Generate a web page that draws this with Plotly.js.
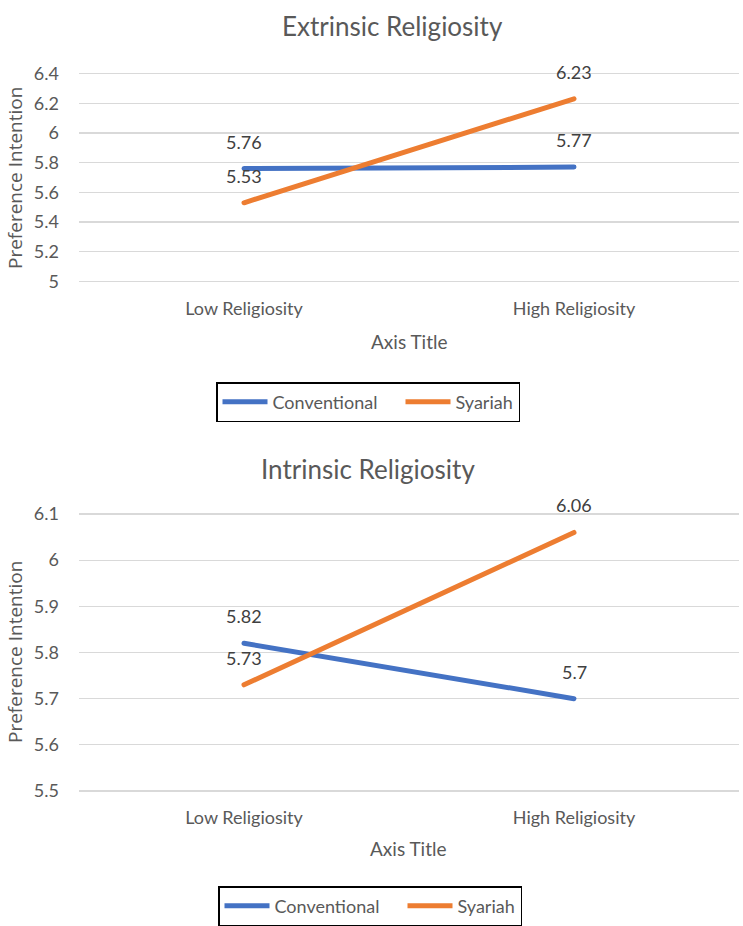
<!DOCTYPE html>
<html>
<head>
<meta charset="utf-8">
<script src="https://cdn.plot.ly/plotly-3.0.1.min.js"></script>
<style>
  html, body { margin: 0; padding: 0; background: #ffffff; }
  #chart { width: 743px; height: 926px; }
  /* rounded ends on the series lines */
  #chart .scatterlayer .js-line { stroke-linecap: round; stroke-linejoin: round; }
</style>
</head>
<body>
<div id="chart"></div>
<script>
// Preference intention by religiosity level, conventional vs. syariah banking
const categories = ["Low Religiosity", "High Religiosity"];
const seriesNames = ["Conventional", "Syariah"];

const extrinsicConventional = [5.76, 5.77];
const extrinsicSyariah = [5.53, 6.23];

const intrinsicConventional = [5.82, 5.70];
const intrinsicSyariah = [5.73, 6.06];

const extrinsicTicks = [5, 5.2, 5.4, 5.6, 5.8, 6, 6.2, 6.4];
const extrinsicTickText = ["5", "5.2", "5.4", "5.6", "5.8", "6", "6.2", "6.4"];
const intrinsicTicks = [5.5, 5.6, 5.7, 5.8, 5.9, 6, 6.1];
const intrinsicTickText = ["5.5", "5.6", "5.7", "5.8", "5.9", "6", "6.1"];

const chartTitles = ["Extrinsic Religiosity", "Intrinsic Religiosity"];
const yTitle = "Preference Intention";
const xTitle = "Axis Title";

const BLUE = "#4472C4";
const ORANGE = "#ED7D31";
const TEXT = "#595959";
const GRID = "#D9D9D9";
const MAIN_FONT = "Lato, 'Liberation Sans', Arial, sans-serif";
const SIDE_FONT = "'Open Sans', 'Noto Sans', 'DejaVu Sans', sans-serif";

const W = 743, H = 926;
const px = v => v / W;          // horizontal pixel -> paper
const py = v => 1 - v / H;      // vertical pixel -> paper

function lineTrace(y, name, color, xa, ya, legend, entryWidth) {
  const t = {
    type: "scatter", mode: "lines",
    x: categories, y: y, name: name,
    xaxis: xa, yaxis: ya, legend: legend,
    line: { color: color, width: 5 },
    hoverinfo: "skip"
  };
  if (entryWidth) t.legendwidth = entryWidth;
  return t;
}

const data = [
  lineTrace(extrinsicConventional, seriesNames[0], BLUE, "x", "y", "legend", 123),
  lineTrace(extrinsicSyariah, seriesNames[1], ORANGE, "x", "y", "legend"),
  lineTrace(intrinsicConventional, seriesNames[0], BLUE, "x2", "y2", "legend2", 123),
  lineTrace(intrinsicSyariah, seriesNames[1], ORANGE, "x2", "y2", "legend2")
];

// value labels sitting above each point
function valueLabels(values, xref, yref) {
  return values.map((v, i) => ({
    x: categories[i], y: v, xref: xref, yref: yref,
    text: String(v), showarrow: false, yshift: 27,
    font: { family: MAIN_FONT, size: 18, color: "#404040" }
  }));
}

// y axis whose first and last gridlines sit a few pixels inside the plot edge,
// so the end gridlines are still drawn
function yAxis(lo, hi, topPx, bottomPx, ticks, tickText) {
  const pad = 3;
  const perPx = (hi - lo) / (bottomPx - topPx);
  return {
    range: [lo - pad * perPx, hi + pad * perPx],
    domain: [py(bottomPx + pad), py(topPx - pad)],
    tickmode: "array", tickvals: ticks, ticktext: tickText,
    showgrid: true, gridcolor: GRID, gridwidth: 1.3,
    zeroline: false, showline: false, ticks: "",
    ticklabelstandoff: 19,
    tickfont: { family: MAIN_FONT, size: 18, color: TEXT },
    fixedrange: true
  };
}

function xAxis(domain, anchor) {
  return {
    type: "category", range: [-0.5, 1.5], domain: domain, anchor: anchor,
    showgrid: false, zeroline: false, showline: false, ticks: "",
    tickfont: { family: MAIN_FONT, size: 18, color: TEXT },
    ticklabelstandoff: 11,
    fixedrange: true
  };
}

const xDomain = [px(79), px(739)];

const annotations = []
  .concat(valueLabels(extrinsicConventional, "x", "y"))
  .concat(valueLabels(extrinsicSyariah, "x", "y"))
  .concat(valueLabels(intrinsicConventional, "x2", "y2"))
  .concat(valueLabels(intrinsicSyariah, "x2", "y2"))
  .concat([
    { text: chartTitles[0], x: px(392), y: py(26), xref: "paper", yref: "paper",
      showarrow: false, xanchor: "center", yanchor: "middle",
      font: { family: MAIN_FONT, size: 26, color: TEXT } },
    { text: chartTitles[1], x: px(368), y: py(469), xref: "paper", yref: "paper",
      showarrow: false, xanchor: "center", yanchor: "middle",
      font: { family: MAIN_FONT, size: 26, color: TEXT } },
    { text: xTitle, x: px(409), y: py(341), xref: "paper", yref: "paper",
      showarrow: false, xanchor: "center", yanchor: "middle",
      font: { family: MAIN_FONT, size: 19, color: TEXT } },
    { text: xTitle, x: px(408), y: py(848), xref: "paper", yref: "paper",
      showarrow: false, xanchor: "center", yanchor: "middle",
      font: { family: MAIN_FONT, size: 19, color: TEXT } },
    { text: yTitle, x: px(15), y: py(178), xref: "paper", yref: "paper",
      showarrow: false, textangle: -90, xanchor: "center", yanchor: "middle",
      font: { family: SIDE_FONT, size: 19, color: TEXT } },
    { text: yTitle, x: px(15), y: py(652), xref: "paper", yref: "paper",
      showarrow: false, textangle: -90, xanchor: "center", yanchor: "middle",
      font: { family: SIDE_FONT, size: 19, color: TEXT } }
  ]);

function legendBox(xLeft, yTop) {
  return {
    orientation: "h", x: px(xLeft), y: py(yTop),
    xanchor: "left", yanchor: "top",
    bgcolor: "#ffffff", bordercolor: "#000000", borderwidth: 1.5,
    font: { family: MAIN_FONT, size: 18, color: TEXT },
    itemwidth: 45,
    tracegroupgap: 0, traceorder: "normal"
  };
}

const layout = {
  width: W, height: H,
  margin: { l: 0, r: 0, t: 0, b: 0, autoexpand: false },
  paper_bgcolor: "#ffffff", plot_bgcolor: "#ffffff",
  showlegend: true,
  xaxis: xAxis(xDomain, "y"),
  yaxis: yAxis(5, 6.4, 73.5, 281.5, extrinsicTicks, extrinsicTickText),
  xaxis2: xAxis(xDomain, "y2"),
  yaxis2: Object.assign(yAxis(5.5, 6.1, 514, 791, intrinsicTicks, intrinsicTickText), { anchor: "x2" }),
  legend: legendBox(216, 382),
  legend2: legendBox(218, 886),
  annotations: annotations
};

Plotly.newPlot("chart", data, layout, { displayModeBar: false, staticPlot: true });
</script>
</body>
</html>
